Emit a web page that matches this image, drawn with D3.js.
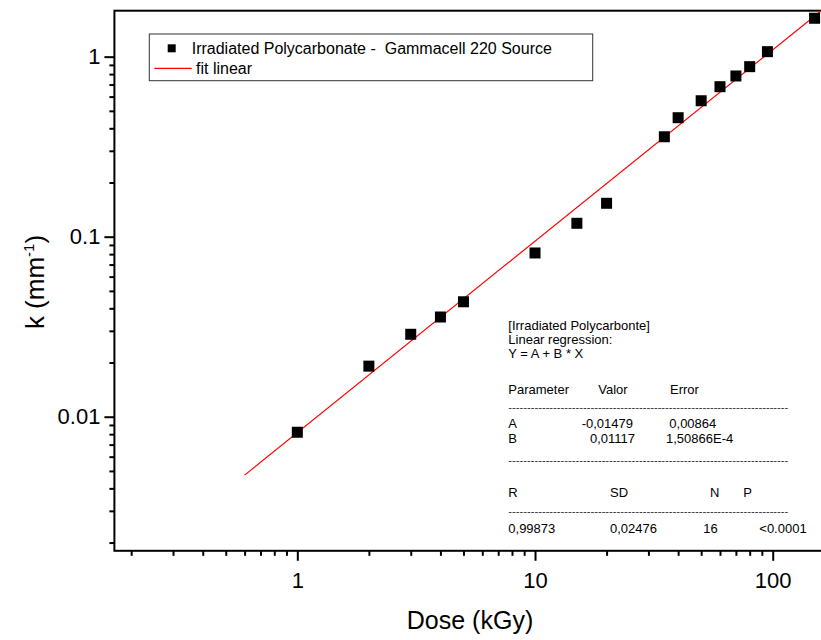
<!DOCTYPE html>
<html><head><meta charset="utf-8">
<script src="https://cdn.jsdelivr.net/npm/d3@7"></script>
<style>
html,body{margin:0;padding:0;background:#fff;}
svg{display:block;font-family:"Liberation Sans",Arial,sans-serif;}
text{white-space:pre;}
</style></head>
<body>
<svg id="chart" width="821" height="640"></svg>
<script>
// ---- data ----
const doses = [1, 2, 3, 4, 5, 10, 15, 20, 35, 40, 50, 60, 70, 80, 95, 150];
const kValues = [0.0082, 0.0191, 0.0287, 0.0358, 0.0435, 0.0812, 0.1187, 0.1533, 0.359, 0.458, 0.569, 0.681, 0.781, 0.880, 1.066, 1.634];
const fitX = [0.6, 160];
const fitY = [0.00474, 1.8];
const xMajorTicks = [1, 10, 100];
const xTickLabels = ["1", "10", "100"];
const yMajorTicks = [0.01, 0.1, 1];
const yTickLabels = ["0.01", "0.1", "1"];
const xDomain = [0.17, 200];
const yDomain = [0.0018, 1.8];
const legendLabels = ["Irradiated Polycarbonate -  Gammacell 220 Source", "fit linear"];
const regressionRows = [
  ["[Irradiated Polycarbonte]"],
  ["Linear regression:"],
  ["Y = A + B * X"],
  ["Parameter", "Valor", "Error"],
  ["A", "-0,01479", "0,00864"],
  ["B", "0,01117", "1,50866E-4"],
  ["R", "SD", "N", "P"],
  ["0,99873", "0,02476", "16", "<0.0001"]
];

(function () {
// ---- layout ----
const svg = d3.select("#chart");
const pLeft = 114.4, pTop = 10.7, pBottom = 550.8;
const decade = 237.7;
const pRight = pLeft + Math.log10(xDomain[1] / xDomain[0]) * decade;

const x = d3.scaleLog().domain(xDomain).range([pLeft, pRight]);
const y = d3.scaleLog().domain(yDomain).range([pBottom, pTop]);

// minor ticks
const xMinor = x.ticks().filter(v => !xMajorTicks.some(m => Math.abs(m - v) < 1e-9));
const yMinor = y.ticks().filter(v => !yMajorTicks.some(m => Math.abs(m - v) < 1e-12));

const gx = svg.append("g").attr("transform", `translate(0,${pBottom})`);
gx.call(d3.axisBottom(x).tickValues(xMinor).tickSize(5).tickFormat(""));
gx.append("g").call(d3.axisBottom(x).tickValues(xMajorTicks).tickSize(10).tickPadding(6)
  .tickFormat((d, i) => xTickLabels[i]));
gx.selectAll(".domain").remove();
gx.selectAll("line").attr("stroke", "#000").attr("stroke-width", 2);
gx.selectAll("text").attr("font-size", 22).attr("fill", "#000")
  .attr("font-family", "Liberation Sans, Arial, sans-serif").attr("dy", "0.95em");

const gy = svg.append("g").attr("transform", `translate(${pLeft},0)`);
gy.call(d3.axisLeft(y).tickValues(yMinor).tickSize(5).tickFormat(""));
gy.append("g").call(d3.axisLeft(y).tickValues(yMajorTicks).tickSize(10).tickPadding(4)
  .tickFormat((d, i) => yTickLabels[i]));
gy.selectAll(".domain").remove();
gy.selectAll("line").attr("stroke", "#000").attr("stroke-width", 2);
gy.selectAll("text").attr("font-size", 22).attr("fill", "#000")
  .attr("font-family", "Liberation Sans, Arial, sans-serif");

// frame
svg.append("rect").attr("x", pLeft).attr("y", pTop)
  .attr("width", pRight - pLeft + 20).attr("height", pBottom - pTop)
  .attr("fill", "none").attr("stroke", "#000").attr("stroke-width", 2);

// fit line
svg.append("line")
  .attr("x1", x(fitX[0])).attr("y1", y(fitY[0]))
  .attr("x2", x(fitX[1])).attr("y2", y(fitY[1]))
  .attr("stroke", "#ff0000").attr("stroke-width", 1.2);

// points
const ms = 11;
svg.append("g").selectAll("rect").data(doses).join("rect")
  .attr("x", (d) => x(d) - ms / 2)
  .attr("y", (d, i) => y(kValues[i]) - ms / 2)
  .attr("width", ms).attr("height", ms).attr("fill", "#000");

// axis titles
svg.append("text").attr("x", 470).attr("y", 629).attr("text-anchor", "middle")
  .attr("font-size", 25).text("Dose (kGy)");
const yt = svg.append("text").attr("transform", "translate(44,282) rotate(-90)")
  .attr("text-anchor", "middle").attr("font-size", 26);
yt.append("tspan").text("k (mm");
yt.append("tspan").attr("font-size", 15).attr("dy", -10).text("-1");
yt.append("tspan").attr("dy", 10).text(")");

// legend
const lg = svg.append("g");
lg.append("rect").attr("x", 149.3).attr("y", 34).attr("width", 443.4).attr("height", 46.7)
  .attr("fill", "#fff").attr("stroke", "#333").attr("stroke-width", 1);
lg.append("rect").attr("x", 171.7 - 4).attr("y", 48.3 - 4).attr("width", 8).attr("height", 8).attr("fill", "#000");
lg.append("line").attr("x1", 154.3).attr("x2", 191.7).attr("y1", 68.3).attr("y2", 68.3)
  .attr("stroke", "#ff0000").attr("stroke-width", 1.2);
lg.append("text").attr("x", 191.7).attr("y", 53.5).attr("font-size", 16).text(legendLabels[0]);
lg.append("text").attr("x", 196).attr("y", 74).attr("font-size", 16).text(legendLabels[1]);

// regression block
const rb = svg.append("g").attr("font-size", 13).attr("fill", "#000");
const rowY = [330, 344.3, 358.3, 394.3, 428.3, 442.7, 497.3, 533.3];
const colX = [
  [508.3], [508.3], [508.3],
  [508.3, 598.3, 670],
  [508.3, 581.7, 669.3],
  [508.3, 590, 666],
  [508.3, 610, 710, 743.3],
  [508.3, 610, 703.3, 759.3]
];
regressionRows.forEach((row, r) => {
  row.forEach((t, c) => {
    rb.append("text").attr("x", colX[r][c]).attr("y", rowY[r]).text(t);
  });
});
[408.3, 460.7, 511.7].forEach(yy => {
  rb.append("text").attr("x", 508.3).attr("y", yy + 3).attr("font-size", 9)
    .attr("textLength", 280).attr("lengthAdjust", "spacingAndGlyphs")
    .text("-".repeat(75));
});
})();
</script>
</body></html>
